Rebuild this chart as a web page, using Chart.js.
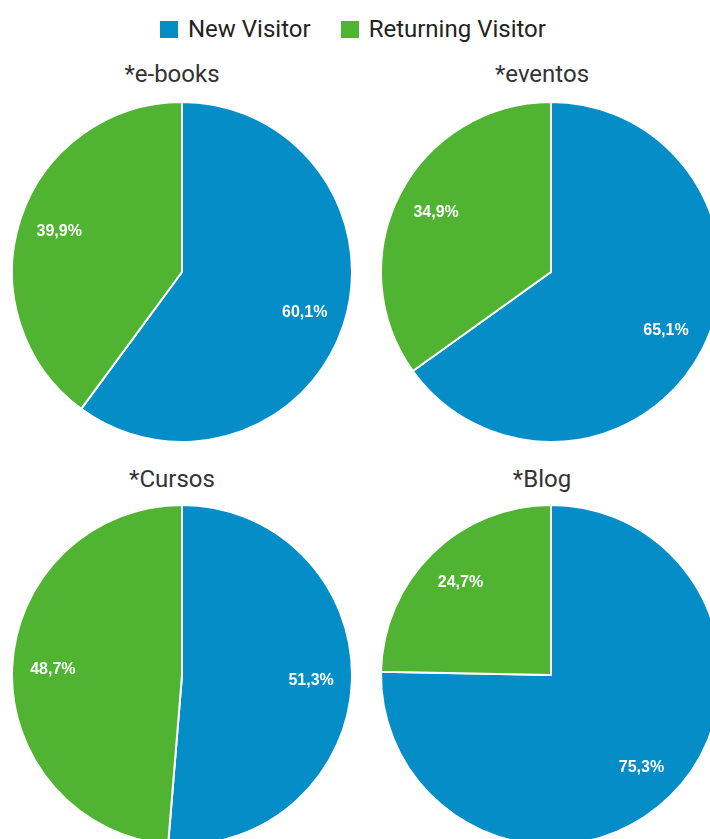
<!DOCTYPE html>
<html>
<head>
<meta charset="utf-8">
<title>Visitantes por seção</title>
<script src="https://cdn.jsdelivr.net/npm/chart.js@4.4.0/dist/chart.umd.min.js"></script>
<style>
  html, body { margin: 0; padding: 0; background: #fff; overflow: hidden; }
  #wrap { position: relative; width: 710px; height: 839px; overflow: hidden; }
  #legend {
    position: absolute; left: 160px; top: 15px; height: 28px;
    display: flex; align-items: center;
    font-family: Roboto, sans-serif; font-size: 24px; line-height: 28px; color: #222;
  }
  #legend .item { display: flex; align-items: center; margin-right: 30px; }
  #legend .box { display: inline-block; width: 18px; height: 17px; margin-right: 10px; }
  .title {
    position: absolute; width: 200px; text-align: center;
    font-family: Roboto, sans-serif; font-size: 24px; line-height: 28px; color: #333;
  }
  canvas { position: absolute; }
</style>
</head>
<body>
<div id="wrap">
  <div id="legend"></div>
  <canvas id="c0"></canvas>
  <canvas id="c1"></canvas>
  <canvas id="c2"></canvas>
  <canvas id="c3"></canvas>
</div>
<script>
// dados
const categories = ["New Visitor", "Returning Visitor"];
const titles = ["*e-books", "*eventos", "*Cursos", "*Blog"];
const newVisitor = [60.1, 65.1, 51.3, 75.3];
const returningVisitor = [39.9, 34.9, 48.7, 24.7];

const colors = ["#058DC7", "#50B432"];

// centro de cada pizza e do seu título
const centers = [[182, 272], [551, 272], [182, 675], [551, 675]];
const titlePos = [[172, 60], [542, 60], [172, 465], [542, 465]];
const size = 344;

const wrap = document.getElementById("wrap");

// legenda comum em HTML
const legend = document.getElementById("legend");
categories.forEach((name, i) => {
    const item = document.createElement("span");
    item.className = "item";
    item.innerHTML = `<span class="box" style="background:${colors[i]}"></span>${name}`;
    legend.appendChild(item);
});

// escreve a porcentagem dentro de cada fatia
const sliceLabels = {
    id: "sliceLabels",
    afterDatasetsDraw(chart) {
        const ctx = chart.ctx;
        const meta = chart.getDatasetMeta(0);
        const values = chart.data.datasets[0].data;
        ctx.save();
        ctx.fillStyle = "#fff";
        ctx.font = "bold 16px 'Liberation Sans', Arial, sans-serif";
        ctx.textAlign = "center";
        ctx.textBaseline = "middle";
        meta.data.forEach((arc, i) => {
            const p = arc.getProps(["x", "y", "startAngle", "endAngle", "outerRadius"], true);
            const mid = (p.startAngle + p.endAngle) / 2;
            const r = p.outerRadius * 0.76;
            const txt = values[i].toFixed(1).replace(".", ",") + "%";
            ctx.fillText(txt, p.x + Math.cos(mid) * r, p.y + Math.sin(mid) * r);
        });
        ctx.restore();
    }
};

titles.forEach((title, k) => {
    // título de cada pizza
    const t = document.createElement("div");
    t.className = "title";
    t.textContent = title;
    t.style.left = (titlePos[k][0] - 100) + "px";
    t.style.top = titlePos[k][1] + "px";
    wrap.appendChild(t);

    const canvas = document.getElementById("c" + k);
    canvas.width = size;
    canvas.height = size;
    canvas.style.left = (centers[k][0] - size / 2) + "px";
    canvas.style.top = (centers[k][1] - size / 2) + "px";

    new Chart(canvas.getContext("2d"), {
        type: "pie",
        data: {
            labels: categories,
            datasets: [{
                data: [newVisitor[k], returningVisitor[k]],
                backgroundColor: colors,
                borderColor: "#fff",
                borderWidth: 2
            }]
        },
        options: {
            responsive: false,
            animation: false,
            radius: 170,
            layout: { padding: 0 },
            plugins: {
                legend: { display: false },
                tooltip: { enabled: false },
                title: { display: false }
            }
        },
        plugins: [sliceLabels]
    });
});
</script>
</body>
</html>
